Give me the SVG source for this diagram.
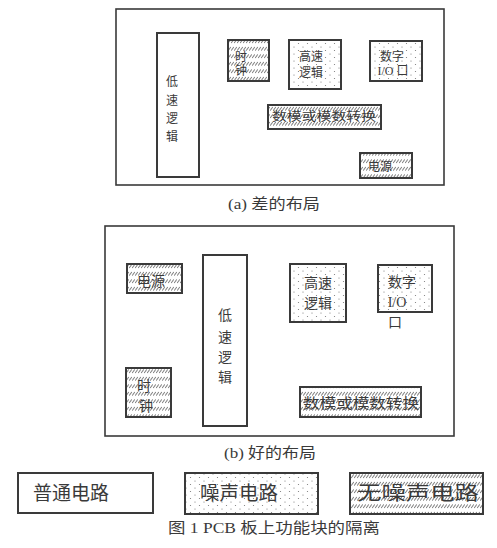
<svg xmlns="http://www.w3.org/2000/svg" width="497" height="548" viewBox="0 0 497 548">
<style>
.board{fill:none;stroke:#3a3a3a;stroke-width:1.6}
.blk{stroke:#3a3a3a;stroke-width:2}
.plain{fill:#fff}
.noisy{fill:url(#dots)}
.quiet{fill:url(#hatch)}
text{font-family:"Liberation Serif","Noto Sans CJK SC",serif;fill:#3a3a3a;text-anchor:middle;dominant-baseline:central}
.s{font-size:12px}
.m{font-size:14px}
.c{font-size:15px}
.l{font-size:19px}
</style>
<defs>
<pattern id="dots" width="9" height="7" patternUnits="userSpaceOnUse">
<rect width="9" height="7" fill="#fff"/>
<circle cx="1.5" cy="1.5" r="0.6" fill="#777"/>
<circle cx="6" cy="5" r="0.6" fill="#777"/>
</pattern>
<pattern id="hatch" width="3" height="7.5" patternUnits="userSpaceOnUse">
<rect width="3" height="7.5" fill="#fff"/>
<line x1="0.3" y1="5.5" x2="2.7" y2="2" stroke="#555" stroke-width="0.9"/>
</pattern>
</defs>
<g id="board-a">
<rect class="board" x="116" y="9" width="328" height="176"/>
</g>
<g id="a-low">
<rect class="blk plain" x="157" y="33" width="42" height="144"/>
<text class="s" x="172" y="82">低</text>
<text class="s" x="172" y="101">速</text>
<text class="s" x="172" y="119">逻</text>
<text class="s" x="172" y="137">辑</text>
</g>
<g id="a-clock">
<rect class="blk quiet" x="228" y="40" width="41" height="41"/>
<text class="s" x="241" y="57">时</text>
<text class="s" x="241" y="71">钟</text>
</g>
<g id="a-high">
<rect class="blk noisy" x="289" y="40" width="52" height="49"/>
<text class="s" x="311" y="57">高速</text>
<text class="s" x="311" y="73">逻辑</text>
</g>
<g id="a-io">
<rect class="blk noisy" x="370" y="41" width="52" height="40"/>
<text class="s" x="392" y="57">数字</text>
<text class="s" x="393" y="71">I/O 口</text>
</g>
<g id="a-adc">
<rect class="blk quiet" x="268" y="105" width="113" height="24"/>
<text class="s" x="324" y="117" textLength="104" lengthAdjust="spacingAndGlyphs">数模或模数转换</text>
</g>
<g id="a-power">
<rect class="blk quiet" x="360" y="153" width="52" height="25"/>
<text class="s" x="380" y="167">电源</text>
</g>
<text class="c" x="274" y="204" textLength="92" lengthAdjust="spacingAndGlyphs">(a) 差的布局</text>
<g id="board-b">
<rect class="board" x="105" y="226" width="349" height="210"/>
</g>
<g id="b-power">
<rect class="blk quiet" x="127" y="264" width="55" height="29"/>
<text class="m" x="151" y="281">电源</text>
</g>
<g id="b-low">
<rect class="blk plain" x="203" y="255" width="44" height="171"/>
<text class="m" x="225" y="315">低</text>
<text class="m" x="225" y="337">速</text>
<text class="m" x="225" y="357">逻</text>
<text class="m" x="225" y="377">辑</text>
</g>
<g id="b-clock">
<rect class="blk quiet" x="126" y="368" width="45" height="49"/>
<text class="m" x="144" y="386">时</text>
<text class="m" x="146" y="406">钟</text>
</g>
<g id="b-high">
<rect class="blk noisy" x="290" y="264" width="56" height="58"/>
<text class="m" x="318" y="283">高速</text>
<text class="m" x="318" y="303">逻辑</text>
</g>
<g id="b-io">
<rect class="blk noisy" x="378" y="265" width="54" height="47"/>
<text class="m" x="402" y="282">数字</text>
<text class="m" x="397" y="302">I/O</text>
<text class="m" x="395" y="322">口</text>
</g>
<g id="b-adc">
<rect class="blk quiet" x="300" y="387" width="121" height="30"/>
<text class="m" x="361" y="403" textLength="116" lengthAdjust="spacingAndGlyphs">数模或模数转换</text>
</g>
<text class="c" x="270" y="453" textLength="92" lengthAdjust="spacingAndGlyphs">(b) 好的布局</text>
<g id="legend-plain">
<rect class="blk plain" x="18" y="473" width="135" height="40"/>
<text class="l" x="71" y="493" textLength="76" lengthAdjust="spacingAndGlyphs">普通电路</text>
</g>
<g id="legend-noisy">
<rect class="blk noisy" x="185" y="473" width="133" height="41"/>
<text class="l" x="239" y="493" textLength="78" lengthAdjust="spacingAndGlyphs">噪声电路</text>
</g>
<g id="legend-quiet">
<rect class="blk quiet" x="350" y="473" width="133" height="41"/>
<text class="l" x="418" y="493" textLength="122" lengthAdjust="spacingAndGlyphs">无噪声电路</text>
</g>
<text class="c" x="274" y="528" textLength="212" lengthAdjust="spacingAndGlyphs">图 1  PCB 板上功能块的隔离</text>
</svg>
